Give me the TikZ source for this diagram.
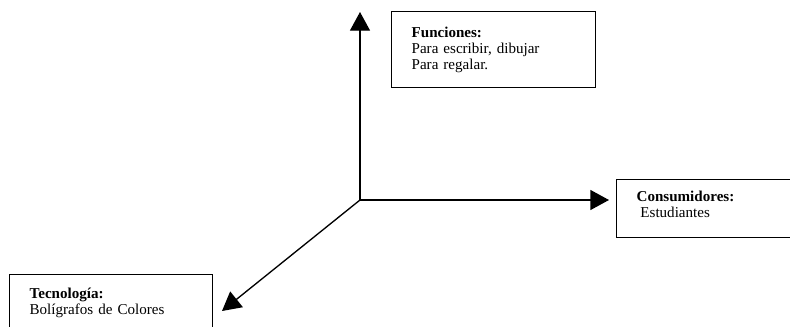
\documentclass[tikz,border=0pt]{standalone}
\usepackage{fontspec}
\setmainfont{Liberation Serif}
\usetikzlibrary{arrows.meta}

\begin{document}
\begin{tikzpicture}[x=0.75pt, y=-0.75pt,
    box/.style={draw, line width=1pt, anchor=north west, align=left,
        inner xsep=15pt, inner ysep=0pt,
        font=\fontsize{11.3}{12}\selectfont},
    axis/.style={line width=1pt, -{Triangle[length=14pt, width=15pt]}}]

    \def\Xo{360};
    \def\Yo{200};
    \def\px{0.75pt};

    \clip (0, 0) rectangle (790, 326);

    % axes ends
    \coordinate (o) at (\Xo, \Yo);
    \coordinate (up) at (\Xo, 12);
    \coordinate (right) at (609, \Yo);
    \coordinate (down) at (222, 311);

    % boxes
    \node[box, text width=164*\px, minimum height=76*\px] (func) at (391, 11)
        {\textbf{Funciones:}\\Para escribir, dibujar\\Para regalar.};
    \node[box, text width=180*\px, minimum height=58*\px] (cons) at (616, 179)
        {\textbf{Consumidores:}\\\hspace{0.25em}Estudiantes\rule[-6pt]{0pt}{6pt}};
    \node[box, text width=163*\px, minimum height=56*\px] (tec) at (9, 274)
        {\textbf{Tecnología:}\\Bolígrafos de Colores};

    % arrows
    \draw[axis] (o) -- (up);
    \draw[axis] (o) -- (right);
    \draw[axis] (o) -- (down);
\end{tikzpicture}
\end{document}
